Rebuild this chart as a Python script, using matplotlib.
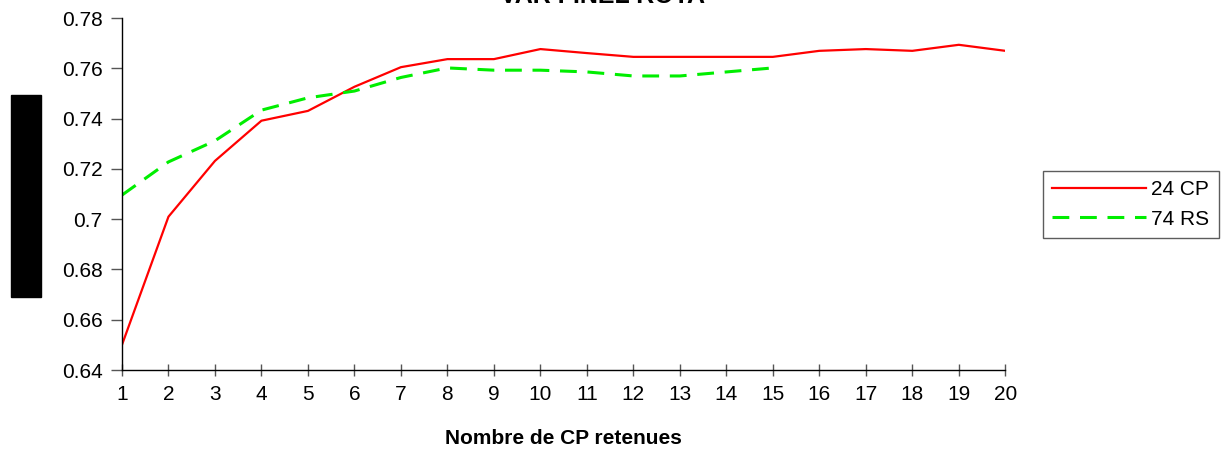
import matplotlib
matplotlib.use("Agg")
import matplotlib.pyplot as plt
from matplotlib.patches import Rectangle

plt.rcParams['font.family'] = ['Liberation Sans', 'DejaVu Sans']

# -------- DATA --------
n_cp = list(range(1, 21))
cp24 = [0.650, 0.701, 0.7232, 0.7392, 0.7431, 0.7527, 0.7605, 0.7637, 0.7637, 0.7677,
        0.7661, 0.7646, 0.7646, 0.7646, 0.7646, 0.767, 0.7677, 0.767, 0.7694, 0.767]
n_rs = list(range(1, 16))
rs74 = [0.7096, 0.7228, 0.7312, 0.7434, 0.7483, 0.751, 0.7564, 0.7602, 0.7593, 0.7593,
        0.7586, 0.757, 0.757, 0.7586, 0.7602]
y_ticks = [0.64, 0.66, 0.68, 0.70, 0.72, 0.74, 0.76, 0.78]
y_labels = ["0.64", "0.66", "0.68", "0.7", "0.72", "0.74", "0.76", "0.78"]

# -------- FIGURE --------
fig = plt.figure(figsize=(12.32, 4.54), dpi=100)
ax = fig.add_axes([0.099, 0.185, 0.717, 0.775])

ax.plot(n_cp, cp24, color="#ff0000", lw=1.6, label="24 CP")
ax.plot(n_rs, rs74, color="#00ee00", lw=2.2, ls=(0, (5.5, 3.5)), label="74 RS")

ax.set_xlim(1, 20)
ax.set_ylim(0.64, 0.78)
ax.set_xticks(n_cp)
ax.set_yticks(y_ticks)
ax.set_yticklabels(y_labels)
ax.tick_params(axis="both", labelsize=15, color="#555555", length=8, width=1)
ax.tick_params(axis="x", direction="inout", pad=7)
ax.tick_params(axis="y", pad=6)

for s in ["top", "right"]:
    ax.spines[s].set_visible(False)
for s in ["left", "bottom"]:
    ax.spines[s].set_color("black")
    ax.spines[s].set_linewidth(1)

ax.set_xlabel("Nombre de CP retenues", fontsize=15, fontweight="bold", labelpad=18)

# title, mostly cut off at the top edge
fig.text(0.489, 1.008, "VAR FINEL ROTA", ha="center", va="center",
         fontsize=18, fontweight="bold")

# black box where the y label was
fig.patches.append(Rectangle((11 / 1232, 1 - 297 / 454), 30 / 1232, 202 / 454,
                             transform=fig.transFigure, color="black"))

leg = fig.legend(loc="upper left", bbox_to_anchor=(1043 / 1232, 1 - 171 / 454),
                 fontsize=15, frameon=True, fancybox=False, handlelength=4.5,
                 borderpad=0.45, labelspacing=0.5, handletextpad=0.25,
                 borderaxespad=0)
leg.get_frame().set_edgecolor("#333333")
leg.get_frame().set_linewidth(1)

fig.savefig("out.png", dpi=100)
